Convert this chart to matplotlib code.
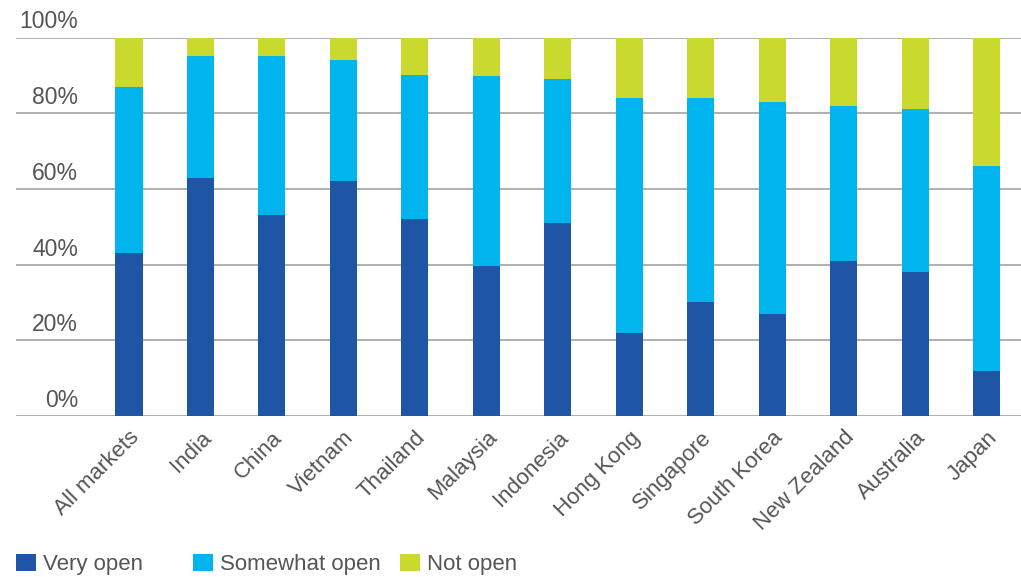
import matplotlib
matplotlib.use("Agg")
import matplotlib.pyplot as plt
import matplotlib.transforms as mtransforms
from matplotlib.patches import Patch

categories = ["All markets", "India", "China", "Vietnam", "Thailand", "Malaysia",
              "Indonesia", "Hong Kong", "Singapore", "South Korea", "New Zealand",
              "Australia", "Japan"]
very_open = [43, 63, 53, 62, 52, 39.5, 51, 22, 30, 27, 41, 38, 12]
somewhat_open = [44, 32, 42, 32, 38, 50.2, 38, 62, 54, 56, 41, 43, 54]
not_open = [13, 5, 5, 6, 10, 10.3, 11, 16, 16, 17, 18, 19, 34]
series_names = ["Very open", "Somewhat open", "Not open"]
yticks = [0, 20, 40, 60, 80, 100]
ytick_labels = ["0%", "20%", "40%", "60%", "80%", "100%"]

colors = ["#1E55A5", "#00B4EE", "#C9D92E"]
text_color = "#555555"

plt.rcParams['font.family'] = ['Liberation Sans', 'DejaVu Sans']

fig = plt.figure(figsize=(10.21, 5.77), dpi=100)
ax = fig.add_axes([16/1021, 1 - 416/577, 1 - 16/1021, (416 - 37.5)/577])

x = list(range(len(categories)))
bottoms2 = very_open
bottoms3 = [a + b for a, b in zip(very_open, somewhat_open)]
w = 0.38
ax.bar(x, very_open, width=w, color=colors[0], zorder=3)
ax.bar(x, somewhat_open, width=w, bottom=bottoms2, color=colors[1], zorder=3)
ax.bar(x, not_open, width=w, bottom=bottoms3, color=colors[2], zorder=3)

ax.set_xlim(-1.58, 12.48)
ax.set_ylim(0, 100)
for s in ax.spines.values():
    s.set_visible(False)
ax.set_yticks(yticks)
ax.set_yticklabels([])
ax.tick_params(axis='y', length=0)
for t in yticks:
    ax.axhline(t, color="#9a9a9a", lw=1.1, zorder=1)

trans = mtransforms.offset_copy(ax.get_yaxis_transform(), fig=fig, x=0, y=4, units='dots')
for t, lab in zip(yticks, ytick_labels):
    ax.text(62/1005, t, lab, transform=trans, ha='right', va='bottom',
            fontsize=16.5, color=text_color)

ax.set_xticks(x)
ax.set_xticklabels(categories, rotation=45, ha='right', va='top',
                   rotation_mode='anchor', fontsize=16, color=text_color)
ax.tick_params(axis='x', length=0, pad=8)

legend_x = [16, 193, 400]
for name, c, lx in zip(series_names, colors, legend_x):
    fig.legend([Patch(facecolor=c, edgecolor='none')], [name], loc='lower left',
               bbox_to_anchor=(lx/1021, 2/577), frameon=False, fontsize=16,
               handlelength=0.9, handleheight=0.8, handletextpad=0.32,
               borderpad=0, borderaxespad=0, labelcolor=text_color)

fig.savefig("out.png", dpi=100, facecolor="white")
